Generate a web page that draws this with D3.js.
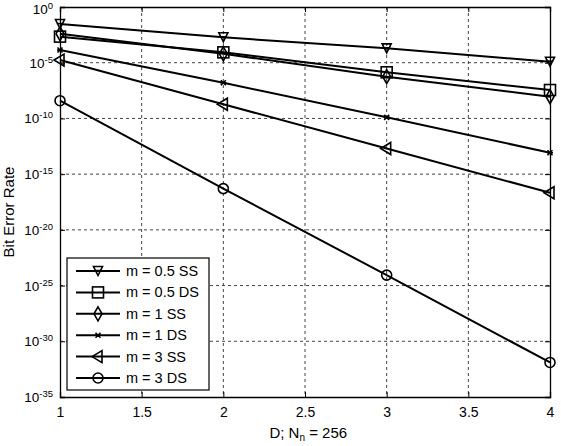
<!DOCTYPE html>
<html>
<head>
<meta charset="utf-8">
<script src="https://cdn.jsdelivr.net/npm/d3@7"></script>
<style>
  body { margin: 0; background: #fff; }
  svg { font-family: "Liberation Sans", Arial, sans-serif; }
  .grid line { stroke: #444; stroke-dasharray: 3,3; stroke-width: 1; }
  .series { fill: none; stroke: #000; stroke-width: 2; }
  .marker { fill: none; stroke: #000; stroke-width: 1.6; }
</style>
</head>
<body>
<svg id="chart" width="561" height="446"></svg>
<script>
// data (log10 of bit error rate)
var dValues = [1, 2, 3, 4]
var seriesNames = ["m = 0.5 SS", "m = 0.5 DS", "m = 1 SS", "m = 1 DS", "m = 3 SS", "m = 3 DS"]
var seriesMarkers = ["tridown", "square", "diamond", "star", "trileft", "circle"]
var m05SS = [-1.53, -2.72, -3.71, -4.91]
var m05DS = [-2.66, -4.07, -5.86, -7.45]
var m1SS = [-2.4, -4.2, -6.25, -8.05]
var m1DS = [-3.86, -6.8, -9.9, -13.08]
var m3SS = [-4.76, -8.73, -12.7, -16.67]
var m3DS = [-8.41, -16.3, -24.06, -31.9]
var xTicks = [1, 1.5, 2, 2.5, 3, 3.5, 4]
var yTickExps = [0, -5, -10, -15, -20, -25, -30, -35]

var allSeries = [m05SS, m05DS, m1SS, m1DS, m3SS, m3DS]

var margin = { top: 7, right: 11, bottom: 49, left: 60 }
var svg = d3.select("#chart")
var width = 561 - margin.left - margin.right
var height = 446 - margin.top - margin.bottom

var x = d3.scaleLinear().domain([1, 4]).range([0, width])
var y = d3.scaleLog().domain([1e-35, 1]).range([height, 0])

var g = svg.append("g").attr("transform", "translate(" + margin.left + "," + margin.top + ")")

// grid
var grid = g.append("g").attr("class", "grid")
grid.selectAll(".gx").data(xTicks.slice(1, -1)).enter().append("line")
  .attr("x1", d => x(d)).attr("x2", d => x(d)).attr("y1", 0).attr("y2", height)
grid.selectAll(".gy").data(yTickExps.slice(1, -1)).enter().append("line")
  .attr("x1", 0).attr("x2", width).attr("y1", d => y(Math.pow(10, d))).attr("y2", d => y(Math.pow(10, d)))

// axes
var xAxis = g.append("g").attr("transform", "translate(0," + height + ")")
  .call(d3.axisBottom(x).tickValues(xTicks).tickSize(-5).tickPadding(10).tickFormat(d3.format("")))
g.append("g")
  .call(d3.axisTop(x).tickValues(xTicks).tickSize(-5).tickFormat(""))
g.append("g")
  .call(d3.axisLeft(y).tickValues(yTickExps.map(e => Math.pow(10, e))).tickSize(-5).tickFormat(""))
g.append("g").attr("transform", "translate(" + width + ",0)")
  .call(d3.axisRight(y).tickValues(yTickExps.map(e => Math.pow(10, e))).tickSize(-5).tickFormat(""))
g.selectAll(".domain").attr("stroke", "#000").attr("stroke-width", 1.3)
g.selectAll(".tick line").attr("stroke", "#000")
xAxis.selectAll(".tick text").attr("font-size", 14).attr("fill", "#000")
  .attr("font-family", "Liberation Sans, Arial, sans-serif")

// y tick labels with superscripts
yTickExps.forEach(function (e) {
  var t = g.append("text")
    .attr("x", -7).attr("y", y(Math.pow(10, e)) + (e === 0 ? 7 : 5))
    .attr("text-anchor", "end").attr("font-size", 13.5).attr("fill", "#000")
  t.append("tspan").text("10")
  t.append("tspan").attr("dy", -5).attr("font-size", 9.5).text(e === 0 ? "0" : "-" + Math.abs(e))
})

// axis labels
var xl = svg.append("text").attr("x", margin.left + x(2.52)).attr("y", 438)
  .attr("text-anchor", "middle").attr("font-size", 15).attr("fill", "#000")
xl.append("tspan").text("D; N")
xl.append("tspan").attr("dy", 3).attr("font-size", 10).text("n")
xl.append("tspan").attr("dy", -3).text(" = 256")

svg.append("text")
  .attr("transform", "translate(14," + (margin.top + height / 2 + 10) + ") rotate(-90)")
  .attr("text-anchor", "middle").attr("font-size", 15).attr("fill", "#000")
  .text("Bit Error Rate")

// markers
function drawMarker(sel, type, cx, cy) {
  var s = 4.5
  if (type === "tridown") {
    sel.append("path").attr("class", "marker")
      .attr("d", "M" + (cx - s) + "," + (cy - s) + "L" + (cx + s) + "," + (cy - s) + "L" + cx + "," + (cy + s) + "Z")
    sel.append("path").attr("class", "marker")
      .attr("d", "M" + (cx - s * 0.7) + "," + (cy - s * 0.1) + "L" + (cx + s * 0.7) + "," + (cy - s * 0.1))
  } else if (type === "square") {
    sel.append("rect").attr("class", "marker").attr("x", cx - 5.5).attr("y", cy - 5.5).attr("width", 11).attr("height", 11)
  } else if (type === "diamond") {
    sel.append("path").attr("class", "marker")
      .attr("d", "M" + cx + "," + (cy - 7) + "L" + (cx + 4) + "," + cy + "L" + cx + "," + (cy + 7) + "L" + (cx - 4) + "," + cy + "Z")
  } else if (type === "star") {
    sel.append("path").attr("class", "marker").attr("stroke-width", 1.4)
      .attr("d", "M" + (cx - 2.5) + "," + (cy - 2.5) + "L" + (cx + 2.5) + "," + (cy + 2.5) + "M" + (cx - 2.5) + "," + (cy + 2.5) + "L" + (cx + 2.5) + "," + (cy - 2.5) + "M" + (cx - 3) + "," + cy + "L" + (cx + 3) + "," + cy)
  } else if (type === "trileft") {
    sel.append("path").attr("class", "marker")
      .attr("d", "M" + (cx - 6) + "," + cy + "L" + (cx + 4) + "," + (cy - 6) + "L" + (cx + 4) + "," + (cy + 6) + "Z")
  } else if (type === "circle") {
    sel.append("circle").attr("class", "marker").attr("cx", cx).attr("cy", cy).attr("r", 5)
  }
}

var line = d3.line()
  .x(function (d, i) { return x(dValues[i]) })
  .y(function (d) { return y(Math.pow(10, d)) })

allSeries.forEach(function (vals, k) {
  g.append("path").attr("class", "series").attr("d", line(vals))
  var mg = g.append("g")
  vals.forEach(function (v, i) {
    drawMarker(mg, seriesMarkers[k], x(dValues[i]), y(Math.pow(10, v)))
  })
})

// legend
var leg = svg.append("g").attr("transform", "translate(67,258)")
leg.append("rect").attr("width", 142).attr("height", 132)
  .attr("fill", "#fff").attr("stroke", "#000").attr("stroke-width", 1.2)
seriesNames.forEach(function (name, k) {
  var ly = 13 + k * 21.4
  leg.append("line").attr("x1", 9).attr("x2", 53).attr("y1", ly).attr("y2", ly)
    .attr("stroke", "#000").attr("stroke-width", 2)
  drawMarker(leg, seriesMarkers[k], 31, ly)
  leg.append("text").attr("x", 59).attr("y", ly + 5).attr("font-size", 14.5).attr("fill", "#000").text(name)
})
</script>
</body>
</html>
